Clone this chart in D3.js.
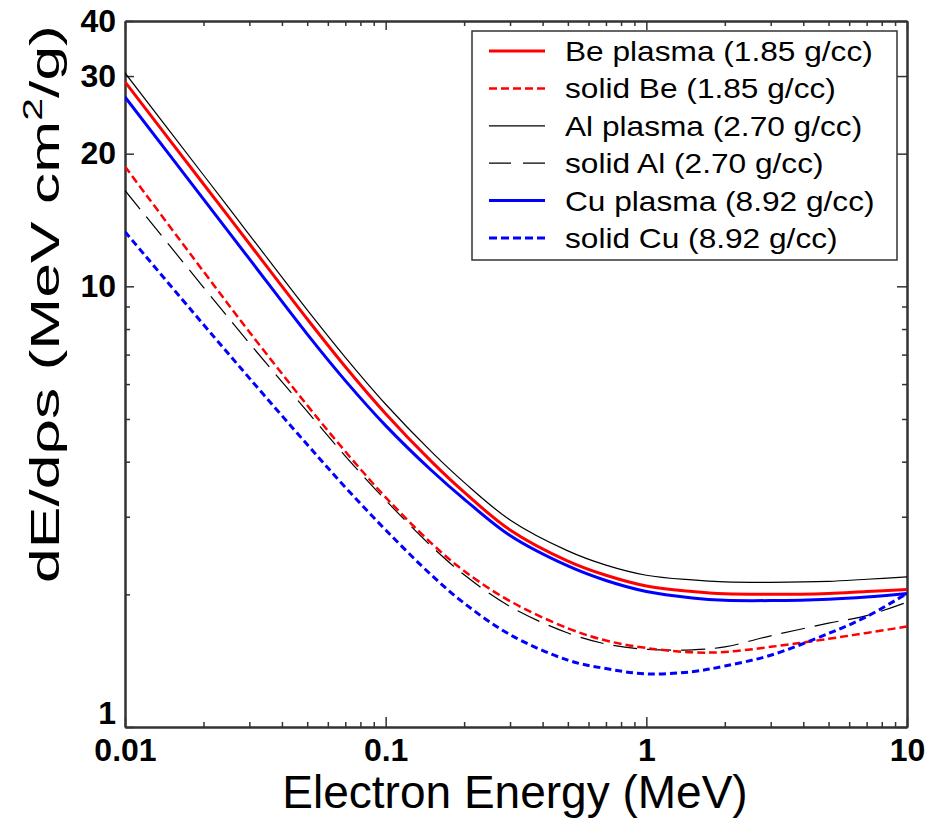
<!DOCTYPE html>
<html><head><meta charset="utf-8">
<script src="https://cdn.jsdelivr.net/npm/d3@7"></script>
<style>body{margin:0;background:#fff;} svg{display:block;font-family:"Liberation Sans",Arial,sans-serif;}</style>
</head><body><svg id="chart" width="928" height="820"></svg>
<script>
// ---- data ----
const energies  = [0.01, 0.02, 0.03, 0.05, 0.07, 0.1, 0.15, 0.2, 0.3, 0.5, 0.7, 1, 1.5, 2, 3, 5, 7, 10];
const bePlasma  = [29.1, 17.07, 12.49, 8.43, 6.57, 5.14, 4.00, 3.41, 2.80, 2.38, 2.21, 2.09, 2.03, 2.005, 2.0, 2.01, 2.03, 2.05];
const solidBe   = [18.7, 10.81, 7.88, 5.37, 4.22, 3.32, 2.61, 2.26, 1.93, 1.675, 1.571, 1.511, 1.477, 1.48, 1.52, 1.585, 1.635, 1.69];
const alPlasma  = [30.5, 17.89, 13.09, 8.84, 6.90, 5.40, 4.21, 3.59, 2.95, 2.51, 2.33, 2.21, 2.156, 2.135, 2.13, 2.14, 2.164, 2.19];
const solidAl   = [16.5, 9.95, 7.43, 5.20, 4.12, 3.27, 2.57, 2.215, 1.876, 1.634, 1.543, 1.50, 1.497, 1.52, 1.61, 1.72, 1.79, 1.92];
const cuPlasma  = [26.89, 15.77, 11.54, 7.79, 6.11, 4.83, 3.82, 3.29, 2.72, 2.32, 2.15, 2.03, 1.963, 1.939, 1.936, 1.95, 1.973, 2.01];
const solidCu   = [13.3, 8.19, 6.19, 4.375, 3.50, 2.80, 2.21, 1.91, 1.62, 1.418, 1.357, 1.32, 1.335, 1.375, 1.455, 1.63, 1.78, 2.01];
const seriesNames = ["Be plasma (1.85 g/cc)", "solid Be (1.85 g/cc)", "Al plasma (2.70 g/cc)",
                     "solid Al (2.70 g/cc)", "Cu plasma (8.92 g/cc)", "solid Cu (8.92 g/cc)"];
const xMajorTicks = [0.01, 0.1, 1, 10];
const xTickLabels = ["0.01", "0.1", "1", "10"];
const yMajorTicks = [1, 10, 20, 30, 40];
const yTickLabels = ["1", "10", "20", "30", "40"];
const xTitle = "Electron Energy (MeV)";

// ---- styles ----
const styles = [
  {color:"#ff0000", width:3,   dash:null,    legendDash:null},
  {color:"#ff0000", width:2.5, dash:"8,4",   legendDash:"8,4"},
  {color:"#000000", width:1.2, dash:null,    legendDash:null},
  {color:"#000000", width:1.2, dash:"24,10", legendDash:"22,12"},
  {color:"#0000ff", width:3,   dash:null,    legendDash:null},
  {color:"#0000ff", width:3,   dash:"7,4",   legendDash:"8,4"}
];
const seriesValues = [bePlasma, solidBe, alPlasma, solidAl, cuPlasma, solidCu];
const series = seriesNames.map((n,i)=>({name:n, values:energies.map((e,j)=>[e, seriesValues[i][j]]), ...styles[i]}));

const L=125, R=907, T=21, B=727;
const svg = d3.select("#chart");
const x = d3.scaleLog().domain([0.01,10]).range([L,R]);
const y = d3.scaleLog().domain([1,40]).range([B,T]);

const xMinor = [];
[0.01,0.1,1].forEach(d=>{for(let k=2;k<=9;k++) xMinor.push(d*k);});
const yMinor = [2,3,4,5,6,7,8,9];

const axisColor = "#333";
function styleAxis(g){
  g.selectAll("path.domain").attr("stroke",axisColor).attr("stroke-width",2);
  g.selectAll(".tick line").attr("stroke",axisColor).attr("stroke-width",1.5);
  g.selectAll("text").attr("fill","#000").attr("font-size",32).attr("font-weight","bold")
    .attr("font-family","'Liberation Sans',Arial,sans-serif");
}
const noLabel = ()=>"";
// bottom
svg.append("g").attr("transform",`translate(0,${B})`)
  .call(d3.axisBottom(x).tickValues(xMinor).tickSizeInner(-5).tickSizeOuter(0).tickFormat(noLabel)).call(styleAxis);
svg.append("g").attr("transform",`translate(0,${B})`)
  .call(d3.axisBottom(x).tickValues(xMajorTicks).tickSizeInner(-10).tickSizeOuter(0).tickPadding(11)
    .tickFormat((d,i)=>xTickLabels[i])).call(styleAxis);
// top
svg.append("g").attr("transform",`translate(0,${T})`)
  .call(d3.axisTop(x).tickValues(xMinor).tickSizeInner(-5).tickSizeOuter(0).tickFormat(noLabel)).call(styleAxis);
svg.append("g").attr("transform",`translate(0,${T})`)
  .call(d3.axisTop(x).tickValues(xMajorTicks).tickSizeInner(-9).tickSizeOuter(0).tickFormat(noLabel)).call(styleAxis);
// left
svg.append("g").attr("transform",`translate(${L},0)`)
  .call(d3.axisLeft(y).tickValues(yMinor).tickSizeInner(-5).tickSizeOuter(0).tickFormat(noLabel)).call(styleAxis);
const yAx = svg.append("g").attr("transform",`translate(${L},0)`)
  .call(d3.axisLeft(y).tickValues(yMajorTicks).tickSizeInner(-9).tickSizeOuter(0).tickPadding(9)
    .tickFormat((d,i)=>yTickLabels[i])).call(styleAxis);
// lift the bottom "1" label so it sits just above "0.01" as in the reference
yAx.selectAll(".tick").filter(d=>d===1).select("text").attr("dy","-0.1em");
// right
svg.append("g").attr("transform",`translate(${R},0)`)
  .call(d3.axisRight(y).tickValues(yMinor).tickSizeInner(-5).tickSizeOuter(0).tickFormat(noLabel)).call(styleAxis);
svg.append("g").attr("transform",`translate(${R},0)`)
  .call(d3.axisRight(y).tickValues(yMajorTicks).tickSizeInner(-10).tickSizeOuter(0).tickFormat(noLabel)).call(styleAxis);

// clip
svg.append("clipPath").attr("id","clip").append("rect").attr("x",L).attr("y",T).attr("width",R-L).attr("height",B-T);

const line = d3.line().x(d=>x(d[0])).y(d=>y(d[1])).curve(d3.curveCatmullRom.alpha(0.5));
const drawOrder = [3,1,5,2,0,4];
svg.append("g").attr("clip-path","url(#clip)").selectAll("path").data(drawOrder.map(i=>series[i])).join("path")
  .attr("d",d=>line(d.values)).attr("fill","none")
  .attr("stroke",d=>d.color).attr("stroke-width",d=>d.width)
  .attr("stroke-dasharray",d=>d.dash);

// legend
const lg = svg.append("g");
lg.append("rect").attr("x",472).attr("y",31).attr("width",425).attr("height",229)
  .attr("fill","#fff").attr("stroke",axisColor).attr("stroke-width",1.5);
const rowY = d3.scaleLinear().domain([0,5]).range([51,238]);
series.forEach((s,i)=>{
  const yy = rowY(i);
  lg.append("line").attr("x1",489).attr("x2",545).attr("y1",yy).attr("y2",yy)
    .attr("stroke",s.color).attr("stroke-width",s.width).attr("stroke-dasharray",s.legendDash);
  const t = lg.append("text").attr("x",565).attr("y",yy).attr("dy","0.36em").attr("font-size",28).attr("fill","#000").text(s.name);
  const len = t.node().getComputedTextLength();
  t.attr("textLength",len*1.13).attr("lengthAdjust","spacingAndGlyphs");
});

// axis titles
svg.append("text").attr("x",515).attr("y",808).attr("text-anchor","middle")
  .attr("font-size",46).attr("fill","#000").text(xTitle);
const yt = svg.append("text").attr("text-anchor","middle")
  .attr("font-size",41).attr("fill","#000");
yt.append("tspan").text("dE/dρs (MeV cm");
yt.append("tspan").attr("font-size",27).attr("dy",-17).text("2");
yt.append("tspan").attr("dy",17).text("/g)");
const yLen = yt.node().getComputedTextLength();
yt.attr("transform",`translate(59,304) rotate(-90) scale(${558/yLen},1)`);
</script></body></html>
